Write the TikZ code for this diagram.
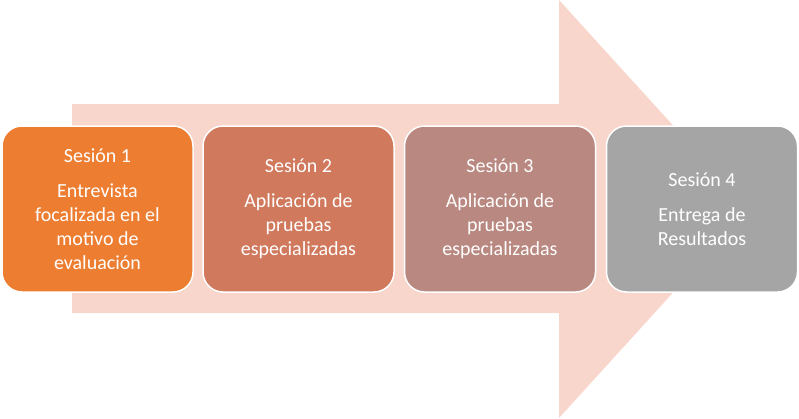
\documentclass[tikz,border=0pt]{standalone}
\usepackage{fontspec}
\setmainfont{Carlito}
\definecolor{arrowfill}{RGB}{248,214,204}
\definecolor{cA}{RGB}{237,125,49}
\definecolor{cB}{RGB}{209,121,92}
\definecolor{cC}{RGB}{185,136,128}
\definecolor{cD}{RGB}{165,165,165}
\begin{document}
\begin{tikzpicture}[x=1pt,y=-1pt,
  session/.style={draw=white, line width=1.5pt, rounded corners=20pt,
    minimum width=191pt, minimum height=166pt, inner sep=0pt,
    align=center, text=white, font=\fontsize{20}{24}\selectfont}]
\useasboundingbox (0,0) rectangle (799,418);
\fill[arrowfill] (72,104) -- (559,104) -- (559,0) -- (749,209) -- (559,418) -- (559,313) -- (72,313) -- cycle;
\node[session, fill=cA] (s1) at (97.5,209) {Sesión 1\\[11pt]Entrevista\\focalizada en el\\motivo de\\evaluación};
\node[session, fill=cB] (s2) at (298.5,209) {Sesión 2\\[11pt]Aplicación de\\pruebas\\especializadas};
\node[session, fill=cC] (s3) at (500,209) {Sesión 3\\[11pt]Aplicación de\\pruebas\\especializadas};
\node[session, fill=cD] (s4) at (702,209) {Sesión 4\\[11pt]Entrega de\\Resultados};
\end{tikzpicture}
\end{document}
